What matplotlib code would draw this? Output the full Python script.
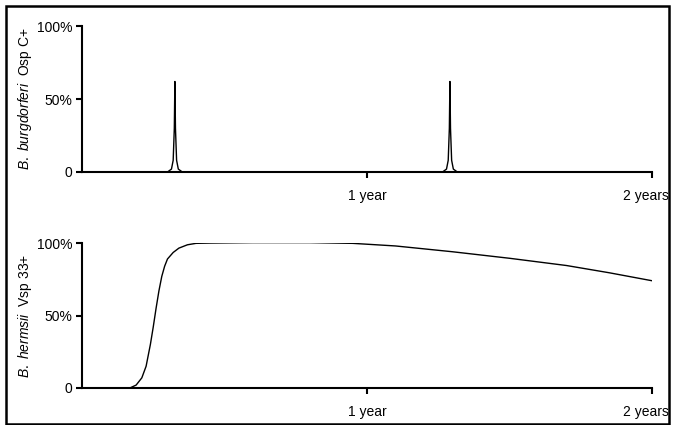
import matplotlib.pyplot as plt
from matplotlib.patches import Rectangle
from matplotlib.transforms import ScaledTranslation

plt.rcParams["font.family"] = ["Liberation Sans", "DejaVu Sans"]
plt.rcParams["mathtext.fontset"] = "custom"
plt.rcParams["mathtext.rm"] = "Liberation Sans"
plt.rcParams["mathtext.it"] = "Liberation Sans:italic"

# OspC+ B. burgdorferi: two brief spikes (years, % positive)
osp_t = [0.0, 0.300, 0.314, 0.320, 0.324, 0.326, 0.328, 0.332, 0.338, 0.352,
         1.265, 1.279, 1.285, 1.289, 1.291, 1.293, 1.297, 1.303, 1.317, 2.0]
osp_v = [0, 0, 2, 8, 30, 62, 30, 8, 2, 0,
         0, 2, 8, 30, 62, 30, 8, 2, 0, 0]

# Vsp33+ B. hermsii (years, % positive)
vsp_t = [0.0, 0.168, 0.19, 0.21, 0.225, 0.24, 0.25, 0.26, 0.27, 0.28, 0.29,
         0.30, 0.32, 0.34, 0.37, 0.40, 0.45, 0.6, 0.8, 0.95, 1.1, 1.3, 1.5,
         1.7, 1.85, 2.0]
vsp_v = [0, 0, 2, 7, 15, 30, 42, 55, 67, 77, 84,
         89, 93.5, 96.5, 98.8, 99.8, 100, 100.3, 100.3, 99.8, 98, 94, 89.5,
         84.5, 79.5, 74]

xticks = [1, 2]
xticklabels = ["1 year", "2 years"]
yticks = [0, 50, 100]
yticklabels = ["0", "50%", "100%"]

fig = plt.figure(figsize=(6.73, 4.25), dpi=100)
fig.patches.append(Rectangle((0.009, 0.003), 0.985, 0.982, transform=fig.transFigure,
                             fill=False, edgecolor="black", linewidth=1.8))

ax1 = fig.add_axes([0.1218, 0.5953, 0.847, 0.3435])
ax2 = fig.add_axes([0.1218, 0.0871, 0.847, 0.341])

ax1.plot(osp_t, osp_v, color="black", linewidth=1.0)
ax2.plot(vsp_t, vsp_v, color="black", linewidth=1.0)

labels = [r"$\it{B.\ burgdorferi}$  Osp C+", r"$\it{B.\ hermsii}$  Vsp 33+"]
for ax, lab in zip([ax1, ax2], labels):
    ax.set_xlim(0, 2)
    ax.set_ylim(0, 100)
    ax.set_xticks(xticks)
    ax.set_xticklabels(xticklabels)
    ax.set_yticks(yticks)
    ax.set_yticklabels(yticklabels)
    for s in ["top", "right"]:
        ax.spines[s].set_visible(False)
    for s in ["left", "bottom"]:
        ax.spines[s].set_linewidth(1.5)
    ax.tick_params(axis="both", direction="out", length=4, width=1.5,
                   labelsize=10, pad=8)
    ax.tick_params(axis="y", pad=3)
    ax.set_ylabel(lab, fontsize=10, labelpad=2)
    ax.patch.set_alpha(0)
    # nudge "2 years" left so it stays inside the frame
    lbl = ax.get_xticklabels()[-1]
    lbl.set_transform(lbl.get_transform() + ScaledTranslation(-6 / 100, 0, fig.dpi_scale_trans))

fig.savefig("out.png", dpi=100, facecolor="white")
